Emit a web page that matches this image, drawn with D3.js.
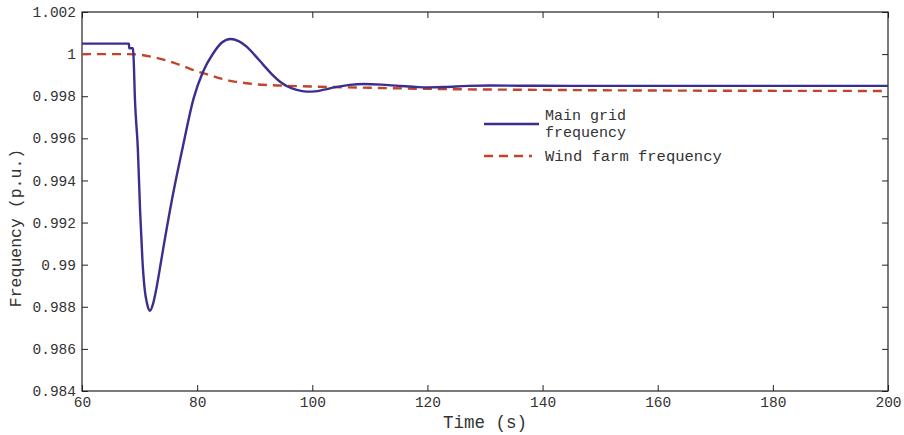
<!DOCTYPE html>
<html>
<head>
<meta charset="utf-8">
<script src="https://cdn.jsdelivr.net/npm/d3@7"></script>
<style>
  html, body { margin: 0; padding: 0; background: #fff; }
  svg { display: block; }
  text { font-family: "Liberation Mono", "Courier New", monospace; fill: #333; }
</style>
</head>
<body>
<script>
// Main grid frequency (p.u.) after the disturbance
const gridTime = [60, 64, 68.15, 68.2, 68.85, 68.95, 69.2, 69.7, 70.1, 70.5, 70.9, 71.3, 71.8, 72.3, 72.8,
  73.7, 74.1, 75.6, 77.5, 79.4, 81, 82.8, 84.3, 85.8, 87.2, 88.6, 90, 91.5, 93, 94.4, 95.8, 97.3,
  99, 100.5, 102, 104, 106.5, 109, 112, 115, 118, 120, 123, 127, 131, 136, 145, 200];
const gridFreq = [1.0005, 1.0005, 1.0005, 1.00028, 1.00028, 0.9999, 0.99782, 0.9955, 0.9925, 0.9902, 0.9888,
  0.98815, 0.98781, 0.9881, 0.9887, 0.9901, 0.99075, 0.99305, 0.99558, 0.99791, 0.99915, 1.00004,
  1.00055, 1.00072, 1.00062, 1.00036, 0.99995, 0.99949, 0.99904, 0.99869, 0.99845, 0.9983,
  0.99822, 0.99823, 0.99831, 0.99843, 0.99854, 0.99858, 0.99855, 0.99849, 0.99844, 0.99842,
  0.99844, 0.99849, 0.99851, 0.9985, 0.99849, 0.99849];

// Wind farm frequency (p.u.)
const windTime = [60, 68, 70, 72, 74, 76, 78, 80, 82, 84, 86, 88, 90, 94, 100, 110, 120, 140, 160, 200];
const windFreq = [1.0, 1.0, 0.99997, 0.99988, 0.99975, 0.99958, 0.99938, 0.99918, 0.99902, 0.99885,
  0.99872, 0.99864, 0.99857, 0.99851, 0.99846, 0.9984, 0.99835, 0.9983, 0.99827, 0.99825];

const xTicks = [60, 80, 100, 120, 140, 160, 180, 200];
const yTicks = [0.984, 0.986, 0.988, 0.99, 0.992, 0.994, 0.996, 0.998, 1, 1.002];

const W = 904, H = 435;
const m = { left: 82, right: 16, top: 12, bottom: 44 };
const iw = W - m.left - m.right, ih = H - m.top - m.bottom;

const svg = d3.select("body").append("svg").attr("width", W).attr("height", H);
const g = svg.append("g").attr("transform", `translate(${m.left},${m.top})`);

const x = d3.scaleLinear().domain([60, 200]).range([0, iw]);
const y = d3.scaleLinear().domain([0.984, 1.002]).range([ih, 0]);

const yFmt = d => (d === 1 ? "1" : d === 0.99 ? "0.99" : d3.format(".3f")(d));

// Axes: ticks point inward on all four sides
const axStyle = sel => {
  sel.select(".domain").remove();
  sel.selectAll(".tick line").attr("stroke", "#222").attr("stroke-width", 1);
  sel.selectAll("text").attr("font-size", 14.5).attr("fill", "#444");
};
g.append("g").attr("transform", `translate(0,${ih})`)
  .call(d3.axisBottom(x).tickValues(xTicks).tickSizeInner(-6).tickSizeOuter(0).tickPadding(6).tickFormat(d3.format("d")))
  .call(axStyle);
g.append("g")
  .call(d3.axisTop(x).tickValues(xTicks).tickSizeInner(-6).tickSizeOuter(0).tickFormat(""))
  .call(axStyle);
g.append("g")
  .call(d3.axisLeft(y).tickValues(yTicks).tickSizeInner(-6).tickSizeOuter(0).tickPadding(6).tickFormat(yFmt))
  .call(axStyle);
g.append("g").attr("transform", `translate(${iw},0)`)
  .call(d3.axisRight(y).tickValues(yTicks).tickSizeInner(-6).tickSizeOuter(0).tickFormat(""))
  .call(axStyle);

g.append("rect").attr("width", iw).attr("height", ih)
  .attr("fill", "none").attr("stroke", "#222").attr("stroke-width", 1.2);

// Data lines
g.append("clipPath").attr("id", "plotclip")
  .append("rect").attr("width", iw).attr("height", ih);
const lineGen = d3.line().x(d => x(d[0])).y(d => y(d[1])).curve(d3.curveMonotoneX);

g.append("path")
  .datum(windTime.map((t, i) => [t, windFreq[i]]))
  .attr("clip-path", "url(#plotclip)")
  .attr("d", lineGen).attr("fill", "none")
  .attr("stroke", "#c0452a").attr("stroke-width", 2.4).attr("stroke-dasharray", "9,6");

g.append("path")
  .datum(gridTime.map((t, i) => [t, gridFreq[i]]))
  .attr("clip-path", "url(#plotclip)")
  .attr("d", lineGen).attr("fill", "none")
  .attr("stroke", "#3a2f8f").attr("stroke-width", 2.4);

// Legend
const lg = svg.append("g");
lg.append("line").attr("x1", 484).attr("x2", 539).attr("y1", 124).attr("y2", 124)
  .attr("stroke", "#3a2f8f").attr("stroke-width", 2.4);
lg.append("text").attr("x", 545).attr("y", 120).attr("font-size", 15).text("Main grid");
lg.append("text").attr("x", 545).attr("y", 137).attr("font-size", 15).text("frequency");
lg.append("line").attr("x1", 484).attr("x2", 532).attr("y1", 156).attr("y2", 156)
  .attr("stroke", "#c0452a").attr("stroke-width", 2.4).attr("stroke-dasharray", "9,6");
lg.append("text").attr("x", 545).attr("y", 161).attr("font-size", 15.5).text("Wind farm frequency");

// Axis titles
svg.append("text").attr("x", m.left + iw / 2).attr("y", 428).attr("text-anchor", "middle")
  .attr("font-size", 17.5).text("Time (s)");
svg.append("text").attr("transform", "translate(21,228) rotate(-90)")
  .attr("text-anchor", "middle").attr("font-size", 16.5).text("Frequency (p.u.)");
</script>
</body>
</html>
